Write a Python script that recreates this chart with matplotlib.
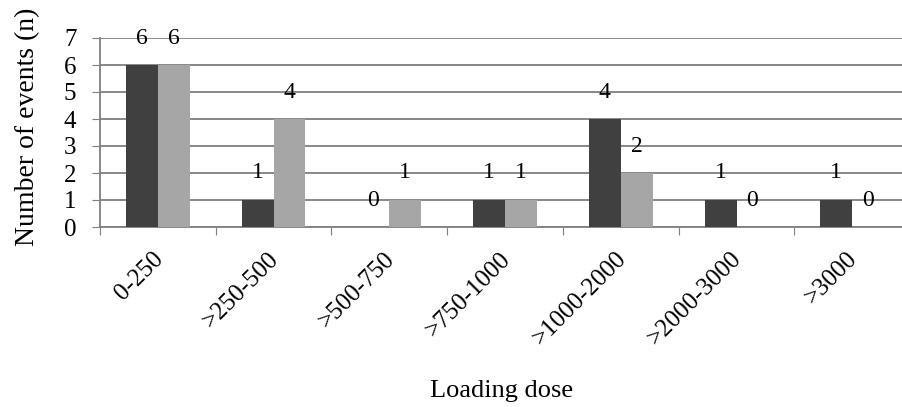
import numpy as np
import matplotlib.pyplot as plt
from matplotlib.transforms import ScaledTranslation

plt.rcParams['font.family'] = ['Liberation Serif', 'DejaVu Serif']

# 데이터
doses = ["0-250", ">250-500", ">500-750", ">750-1000", ">1000-2000", ">2000-3000", ">3000"]
series_dark = [6, 1, 0, 1, 4, 1, 1]
series_light = [6, 4, 1, 1, 2, 0, 0]

dark_color = '#404040'
light_color = '#a6a6a6'

fig = plt.figure(figsize=(9.02, 4.07), dpi=100)
ax = fig.add_axes([100 / 902, 1 - 227 / 407, 802 / 902, (227 - 38) / 407])

x = np.arange(len(doses))
w = 0.275
ax.bar(x - w / 2, series_dark, w, color=dark_color, zorder=3)
ax.bar(x + w / 2, series_light, w, color=light_color, zorder=3)

# 값 표시
for xi, v in zip(x, series_dark):
    ax.text(xi - w / 2, v + 1, str(v), ha='center', va='center', fontsize=17, zorder=4)
for xi, v in zip(x, series_light):
    ax.text(xi + w / 2, v + 1, str(v), ha='center', va='center', fontsize=17, zorder=4)

ax.set_xlim(-0.5, 6.43)
ax.set_ylim(0, 7)
ax.set_yticks(range(8))
ax.yaxis.grid(True, color='#7f7f7f', linewidth=1.3, zorder=0)
ax.tick_params(axis='y', labelsize=18, length=6, color='#7f7f7f', pad=11)

ax.set_xticks(np.arange(-0.5, 6.5, 1))
ax.set_xticklabels([])
ax.set_xticks(x, minor=True)
ax.set_xticklabels(doses, minor=True, rotation=45, ha='right', rotation_mode='anchor', fontsize=18)
ax.tick_params(axis='x', which='major', length=6, color='#7f7f7f')
ax.tick_params(axis='x', which='minor', length=0, pad=15)
shift = ScaledTranslation(-6 / 100, 0, fig.dpi_scale_trans)
for lbl in ax.get_xticklabels(minor=True):
    lbl.set_transform(lbl.get_transform() + shift)

for s in ['top', 'right']:
    ax.spines[s].set_visible(False)
for s in ['left', 'bottom']:
    ax.spines[s].set_color('#7f7f7f')
    ax.spines[s].set_linewidth(1.3)

ax.set_ylabel("Number of events (n)", fontsize=20)
ax.yaxis.set_label_coords(-60 / 802, 0.529)
ax.set_xlabel("Loading dose", fontsize=19)
ax.xaxis.set_label_coords(402 / 802, -153 / 189)

fig.savefig("out.png", dpi=100)
